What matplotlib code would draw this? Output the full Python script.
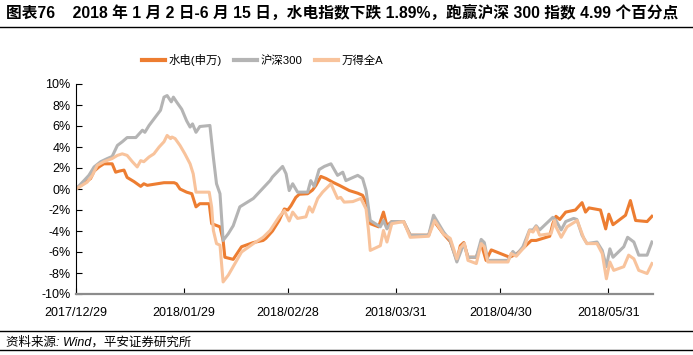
import matplotlib
matplotlib.use("Agg")
import matplotlib.pyplot as plt
from matplotlib.lines import Line2D
import pandas as pd

plt.rcParams["font.family"] = ["Liberation Sans", "Noto Sans CJK SC", "DejaVu Sans"]

START = pd.Timestamp("2017-12-29")

# days since 2017/12/29, cumulative change in %
hydro_days = [0, 4.2, 5.2, 6.6, 8.0, 10.4, 11.4, 12.4, 13.8, 14.7, 16.7, 18.6, 19.5, 20.5,
              25.3, 28.2, 28.9, 29.9, 31.8, 33.3, 34.5, 35.6, 38.3, 39.0, 41.4, 42.3, 42.8,
              45.2, 47.6, 51.0, 53.8, 54.6, 56.5, 58.4, 59.9, 60.9, 61.8, 63.2, 64.2, 66.6,
              68.0, 69.0, 70.4, 71.9, 73.8, 75.7, 78.6, 81.0, 82.4, 83.6, 84.6, 87.0, 88.4,
              89.4, 90.8, 94.2, 96.1, 101.4, 102.8, 105.7, 107.6, 109.5, 110.5, 111.5, 112.7,
              115.1, 116.5, 117.9, 119.4, 124.7, 126.6, 129.0, 130.9, 132.3, 136.2, 137.1,
              138.0, 139.1, 140.8, 143.6, 145.5, 146.5, 147.5, 150.8, 152.3, 153.2, 154.4,
              158.0, 159.4, 160.9, 164.2, 165.6]
hydro = [0, 1.0, 1.7, 2.1, 2.4, 2.4, 1.6, 1.7, 1.8, 1.1, 0.7, 0.25, 0.5, 0.35,
         0.6, 0.6, 0.5, 0.0, -0.3, -0.45, -1.7, -1.4, -1.4, -3.3, -3.6, -4.9, -6.5,
         -6.7, -5.5, -5.1, -4.9, -4.7, -4.0, -3.0, -1.9, -2.0, -1.6, -0.8, -0.5, -0.45,
         -0.1, 0.35, 1.2, 1.0, 0.65, 0.35, -0.15, -0.4, -0.6, -1.4, -3.3, -3.6, -2.2,
         -3.5, -3.1, -3.1, -4.4, -4.4, -3.0, -4.3, -5.0, -6.8, -5.4, -5.1, -6.5,
         -6.5, -5.2, -6.8, -5.8, -6.5, -6.2, -5.5, -4.9, -4.9, -4.5, -3.3,
         -2.6, -2.9, -2.2, -2.0, -1.3, -2.2, -1.8, -2.0, -3.8, -2.4, -3.4,
         -2.5, -1.1, -3.0, -3.1, -2.6]

hs300_days = [0, 2.3, 3.7, 5.2, 7.1, 9.0, 10.4, 11.9, 13.3, 14.7, 17.2, 19.1, 19.8, 21.0,
              24.3, 25.3, 26.2, 27.4, 28.0, 28.9, 30.4, 31.8, 32.8, 33.5, 34.5, 35.6, 38.5,
              39.5, 40.4, 41.4, 42.3, 43.8, 45.2, 47.1, 51.0, 55.8, 56.5, 59.4, 60.4, 61.3,
              62.3, 63.7, 66.6, 67.5, 68.5, 69.9, 71.4, 73.3, 75.2, 76.7, 77.6, 81.0, 82.4,
              83.4, 84.6, 87.5, 88.4, 89.4, 90.8, 94.2, 96.1, 101.4, 102.8, 105.7, 107.6,
              109.5, 111.5, 112.7, 115.1, 116.5, 117.4, 118.4, 124.2, 125.6, 126.6, 128.5,
              130.4, 131.4, 132.3, 133.3, 137.1, 138.0, 139.5, 140.8, 143.1, 144.0, 145.5,
              146.9, 149.8, 151.3, 152.5, 153.5, 154.4, 157.5, 158.6, 160.4, 161.8, 164.2,
              165.6]
hs300 = [0, 0.8, 1.3, 2.1, 2.6, 2.9, 3.1, 4.15, 4.5, 4.9, 4.9, 5.6, 5.4, 6.05,
         7.5, 8.75, 8.9, 8.3, 8.75, 8.3, 7.6, 6.5, 5.9, 6.2, 5.4, 5.95, 6.05,
         3.0, 0.5, -0.45, -4.9, -4.25, -3.5, -1.7, -0.9, 0.8, 1.15, 2.15, 1.45, -0.15,
         0.5, -0.3, -0.3, 0.8, 0.25, 1.85, 2.15, 2.4, 1.3, 1.6, 0.8, 1.3, 1.0,
         -0.15, -3.0, -3.6, -3.0, -3.8, -3.1, -3.1, -4.4, -4.4, -2.5, -4.1, -4.9,
         -6.95, -5.2, -6.5, -6.5, -4.8, -5.1, -6.8, -6.8, -5.95, -6.3, -5.5,
         -3.9, -3.9, -3.5, -3.9, -2.7, -3.0, -3.9, -3.1, -2.8, -2.9, -4.4,
         -5.2, -5.05, -5.85, -7.4, -5.7, -6.5, -5.5, -4.6, -5.05, -6.3, -6.3,
         -5.05]

wind_a_days = [0, 3.2, 4.7, 6.1, 8.0, 10.4, 11.9, 13.3, 14.7, 16.2, 17.6, 18.6, 19.5, 21.0,
               22.4, 23.9, 25.3, 26.2, 27.2, 27.6, 28.5, 29.9, 31.3, 32.8, 33.7, 34.5, 38.3,
               39.0, 39.5, 40.4, 41.4, 42.3, 43.8, 45.7, 47.6, 51.0, 53.8, 55.8, 56.5, 58.4,
               59.9, 61.3, 62.3, 63.7, 66.1, 67.1, 68.0, 69.5, 70.9, 73.3, 75.2, 76.1, 77.1,
               79.6, 81.9, 83.4, 84.1, 84.6, 87.5, 88.4, 89.4, 90.8, 94.2, 96.1, 101.4, 103.1,
               105.7, 107.6, 109.5, 110.5, 111.7, 112.7, 115.1, 116.5, 117.4, 118.4, 124.2,
               125.1, 126.6, 129.0, 130.4, 131.4, 132.3, 133.3, 136.6, 137.6, 138.0, 139.5,
               141.2, 144.1, 146.0, 146.9, 149.8, 151.3, 152.5, 153.5, 154.6, 157.5, 158.9,
               160.4, 161.8, 164.2, 165.6]
wind_a = [0, 0.65, 1.3, 2.25, 2.6, 2.9, 3.2, 3.35, 3.2, 2.6, 2.1, 2.7, 2.6, 3.05,
          3.35, 4.0, 4.5, 5.1, 4.8, 4.95, 4.8, 4.15, 3.35, 2.4, 1.45, -0.3, -0.3,
          -1.7, -3.95, -5.2, -5.35, -8.85, -8.2, -7.1, -6.0, -5.2, -4.6, -3.95, -3.6, -2.65,
          -2.05, -3.05, -2.2, -2.8, -2.65, -1.7, -2.2, -0.9, -0.3, 0.5, -0.9, -0.8, -1.25,
          -1.2, -0.9, -1.9, -3.95, -5.85, -5.4, -3.95, -5.05, -3.3, -3.1, -4.6, -4.5, -3.0,
          -4.3, -4.7, -6.65, -5.6, -5.2, -6.8, -7.1, -5.2, -5.5, -6.95, -6.95,
          -6.15, -6.4, -5.5, -3.95, -4.1, -3.6, -4.4, -4.25, -3.0, -3.6, -4.6,
          -3.6, -3.0, -4.7, -5.2, -5.2, -6.15, -8.55, -6.95, -7.75, -7.4, -6.3,
          -6.65, -7.75, -8.05, -7.1]

series_names = ["水电(申万)", "沪深300", "万得全A"]
series_colors = ["#ED7D31", "#B4B4B4", "#F8C39C"]

tick_dates = ["2017-12-29", "2018-01-29", "2018-02-28", "2018-03-31", "2018-04-30", "2018-05-31"]
tick_labels = ["2017/12/29", "2018/01/29", "2018/02/28", "2018/03/31", "2018/04/30", "2018/05/31"]
y_ticks = [-10, -8, -6, -4, -2, 0, 2, 4, 6, 8, 10]


def to_dates(days):
    return START + pd.to_timedelta(days, unit="D")


fig = plt.figure(figsize=(6.93, 3.55), dpi=100)
ax = fig.add_axes([76 / 693, 1 - 294 / 355, (653 - 76) / 693, (294 - 84) / 355])

handles = []
for days, vals, name, color in zip(
    [hydro_days, hs300_days, wind_a_days], [hydro, hs300, wind_a], series_names, series_colors
):
    (ln,) = ax.plot(to_dates(days), vals, color=color, lw=2.2, label=name,
                    solid_joinstyle="round")
    handles.append(ln)

ax.set_xlim(START, START + pd.Timedelta(days=165.9))
ax.set_ylim(-10, 10)
ax.set_xticks(pd.to_datetime(tick_dates))
ax.set_xticklabels(tick_labels, fontsize=9)
ax.set_yticks(y_ticks)
ax.set_yticklabels([f"{v}%" for v in y_ticks], fontsize=9)
ax.tick_params(axis="both", direction="in", length=4, width=0.8, colors="black", pad=4)
ax.tick_params(axis="x", pad=9)

for side in ("top", "right"):
    ax.spines[side].set_visible(False)
ax.spines["left"].set_color("black")
ax.spines["left"].set_linewidth(0.8)
ax.spines["bottom"].set_color("#8C8C8C")
ax.spines["bottom"].set_linewidth(1.6)

leg = fig.legend(handles=handles, loc="center", bbox_to_anchor=(0.379, 1 - 60 / 355), ncol=3,
                 frameon=False, fontsize=8.2, handlelength=2.0, columnspacing=1.1,
                 handletextpad=0.3)
for h in leg.legend_handles:
    h.set_linewidth(3.0)

fig.text(0.008, 1 - 14 / 355,
         "图表76    2018 年 1 月 2 日-6 月 15 日，水电指数下跌 1.89%，跑赢沪深 300 指数 4.99 个百分点",
         fontsize=11.3, fontweight="bold", va="center", ha="left")
fig.text(0.008, 1 - 342 / 355, "资料来源: Wind，平安证券研究所", fontsize=9, style="italic",
         va="center", ha="left")

for y_px, lw in [(27, 1.0), (331, 1.0), (350, 1.0)]:
    y = 1 - y_px / 355
    fig.add_artist(Line2D([0, 1], [y, y], transform=fig.transFigure, color="black", lw=lw))

fig.savefig("out.png", dpi=100)
plt.close(fig)
